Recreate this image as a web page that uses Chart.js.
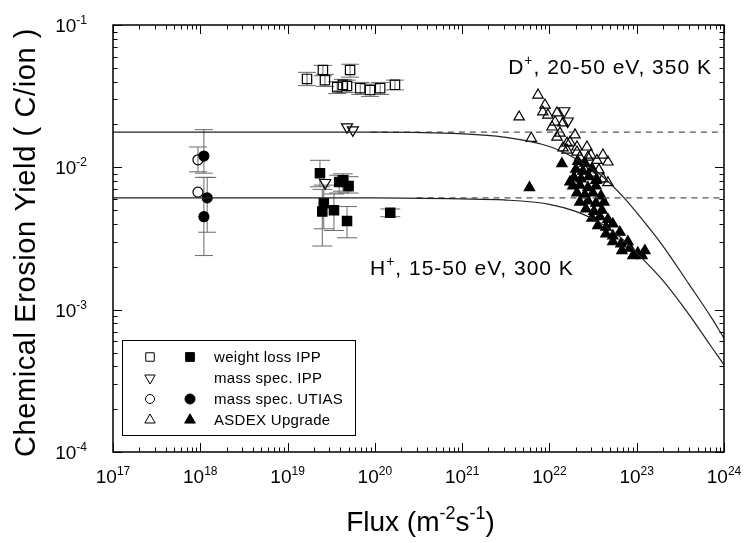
<!DOCTYPE html>
<html lang="en">
<head>
<meta charset="UTF-8">
<title>Chemical Erosion Yield vs Flux</title>
<script src="https://cdn.jsdelivr.net/npm/chart.js"></script>
<style>
  html, body { margin: 0; padding: 0; background: #fff; }
</style>
</head>
<body>
<canvas id="chart" width="747" height="543"></canvas>
<script>
const FONT = '"Liberation Sans", Arial, sans-serif';

// axis decades and minor tick multipliers
const xExps = [17, 18, 19, 20, 21, 22, 23, 24];
const yExps = [-4, -3, -2, -1];
const minorSteps = [2, 3, 4, 5, 6, 7, 8, 9];

// fitted curves
const fitFlux = [1e17, 1e18, 1e19, 1e20, 1e21, 3e21, 1e22, 2e22, 4e22, 7e22, 1e23, 2e23, 4e23, 7e23, 1e24];
const fitD = [0.0177, 0.0177, 0.0177, 0.0177, 0.0172, 0.0163, 0.0140, 0.0115, 0.0087, 0.0062, 0.0048, 0.0028, 0.00150, 0.00090, 0.00063];
const fitH = [0.0061, 0.0061, 0.0061, 0.0061, 0.0060, 0.0059, 0.0055, 0.0049, 0.0040, 0.0031, 0.0025, 0.0016, 0.00092, 0.00056, 0.00041];
const levelD = 0.0177, levelH = 0.0061;
const dashFromD = 9e19, dashFromH = 3e20;

// weight loss IPP  [flux, yield, low, high]
const weightLossD = [
  [1.67e19, 0.0418, 0.0375, 0.0465], [2.54e19, 0.0483, 0.0440, 0.0520], [2.68e19, 0.0410, 0.0370, 0.0450],
  [5.2e19, 0.0483, 0.0430, 0.0530], [3.7e19, 0.0366, 0.0330, 0.0400], [4.3e19, 0.0380, 0.0345, 0.0415],
  [4.8e19, 0.0373, 0.0335, 0.0410], [6.8e19, 0.0360, 0.0325, 0.0395], [8.8e19, 0.0349, 0.0315, 0.0385],
  [1.15e20, 0.0360, 0.0325, 0.0395], [1.7e20, 0.0380, 0.0350, 0.0410]
];
const weightLossH = [
  [2.35e19, 0.0091, 0.0073, 0.0112], [3.9e19, 0.0079, 0.0066, 0.0088], [4.3e19, 0.0081, 0.0068, 0.0090],
  [5.0e19, 0.0074, 0.0066, 0.0086], [2.6e19, 0.0056, 0.0037, 0.0075], [2.5e19, 0.0049, 0.0028, 0.0070],
  [3.4e19, 0.0050, 0.0036, 0.0065], [4.8e19, 0.0042, 0.0032, 0.0053], [1.5e20, 0.0048, 0.0045, 0.0051]
];

// mass spec. IPP (open only)
const massIPP = [[4.8e19, 0.0192], [5.6e19, 0.0183], [2.7e19, 0.0078], [1.48e22, 0.0249], [1.62e22, 0.0211]];

// mass spec. UTIAS  [flux, yield, low, high]
const utiasD = [[9.4e17, 0.0113, 0.0093, 0.0139], [9.4e17, 0.0067, 0.0067, 0.0067]];
const utiasH = [[1.1e18, 0.0120, 0.0091, 0.0184], [1.2e18, 0.0061, 0.0035, 0.0085], [1.1e18, 0.0045, 0.0024, 0.0085]];

// ASDEX Upgrade
const asdexD = [
  [4.5e21, 0.0226], [7.4e21, 0.0322], [8.9e21, 0.0274], [8.4e21, 0.0245], [9.6e21, 0.0233], [1.22e22, 0.0241],
  [1.16e22, 0.0208], [1.43e22, 0.0205], [1.07e22, 0.0192], [1.32e22, 0.0174], [1.96e22, 0.0169], [6.2e21, 0.0160],
  [1.22e22, 0.0163], [1.59e22, 0.0148], [1.59e22, 0.0132], [2.07e22, 0.0139], [2.07e22, 0.0128], [2.69e22, 0.0139],
  [2.23e22, 0.0118], [2.76e22, 0.0118], [2.99e22, 0.0122], [4.10e22, 0.0122], [3.50e22, 0.0112], [4.68e22, 0.0109],
  [2.55e22, 0.0096], [3.07e22, 0.0091], [3.69e22, 0.0096], [3.41e22, 0.0081], [4.10e22, 0.0083], [4.68e22, 0.0078],
  [1.43e22, 0.0137], [1.72e22, 0.0150]
];
const asdexH = [
  [5.9e21, 0.0072], [1.39e22, 0.0106], [1.72e22, 0.0079],
  [2.12e22, 0.0110], [2.55e22, 0.0107],
  [2.01e22, 0.0097], [2.42e22, 0.0094], [3.07e22, 0.0098],
  [1.91e22, 0.0085], [2.30e22, 0.0083], [2.83e22, 0.0086], [3.50e22, 0.0082],
  [1.86e22, 0.0074], [2.23e22, 0.0075], [2.76e22, 0.0072], [3.41e22, 0.0074],
  [2.07e22, 0.0066], [2.55e22, 0.0064], [3.15e22, 0.0066], [3.89e22, 0.0063],
  [2.23e22, 0.0057], [2.76e22, 0.0058], [3.41e22, 0.0056], [4.21e22, 0.0057],
  [2.62e22, 0.0051], [3.24e22, 0.0049], [3.99e22, 0.0050],
  [3.07e22, 0.0044], [3.79e22, 0.0045], [4.68e22, 0.0043],
  [3.59e22, 0.0039], [4.44e22, 0.0038], [5.33e22, 0.0040],
  [4.44e22, 0.0034], [5.33e22, 0.0033], [6.42e22, 0.0035],
  [5.33e22, 0.0030], [6.59e22, 0.0029], [7.93e22, 0.0030],
  [6.77e22, 0.0026], [8.36e22, 0.0027], [1.03e23, 0.0025], [1.24e23, 0.0026],
  [9.04e22, 0.0024], [1.15e23, 0.0024]
];

const legendLabels = ['weight loss IPP', 'mass spec. IPP', 'mass spec. UTIAS', 'ASDEX Upgrade'];

const pts = arr => arr.map(([x, y, lo, hi]) => ({ x, y, lo, hi }));
const curve = ys => fitFlux.map((x, i) => ({ x, y: ys[i] }));

function marker(style, filled, r, extra) {
  return Object.assign({
    showLine: false,
    pointStyle: style,
    pointRadius: r,
    pointBorderWidth: 1.2,
    pointBorderColor: '#000',
    pointBackgroundColor: filled ? '#000' : 'rgba(0,0,0,0)'
  }, extra || {});
}

function textRun(ctx, parts, x, y, size, align, spacing) {
  const supSize = Math.round(size * 0.65);
  ctx.letterSpacing = (spacing || 0) + 'px';
  let w = 0;
  parts.forEach(([t, sup]) => { ctx.font = (sup ? supSize : size) + 'px ' + FONT; w += ctx.measureText(t).width; });
  let cx = align === 'center' ? x - w / 2 : align === 'right' ? x - w : x;
  ctx.textAlign = 'left';
  ctx.textBaseline = 'alphabetic';
  parts.forEach(([t, sup]) => {
    ctx.font = (sup ? supSize : size) + 'px ' + FONT;
    ctx.fillText(t, cx, sup ? y - size * 0.42 : y);
    cx += ctx.measureText(t).width;
  });
  ctx.letterSpacing = '0px';
}

const errorBars = {
  id: 'errorBars',
  beforeDatasetsDraw(chart) {
    const { ctx, scales: { x, y } } = chart;
    ctx.save();
    ctx.strokeStyle = '#6a6a6a';
    ctx.lineWidth = 1;
    chart.data.datasets.forEach(ds => {
      if (!ds.errCap) return;
      ds.data.forEach(p => {
        if (p.lo === undefined || p.lo === p.hi) return;
        const px = x.getPixelForValue(p.x);
        const y1 = y.getPixelForValue(p.lo), y2 = y.getPixelForValue(p.hi);
        const c = ds.errCap / 2;
        ctx.beginPath();
        ctx.moveTo(px, y1); ctx.lineTo(px, y2);
        ctx.moveTo(px - c, y1); ctx.lineTo(px + c, y1);
        ctx.moveTo(px - c, y2); ctx.lineTo(px + c, y2);
        ctx.stroke();
      });
    });
    ctx.restore();
  }
};

const decor = {
  id: 'decor',
  afterDraw(chart) {
    const { ctx, chartArea: a, scales: { x, y } } = chart;
    ctx.save();
    ctx.strokeStyle = '#000';
    ctx.fillStyle = '#000';

    // frame
    ctx.lineWidth = 1.5;
    ctx.strokeRect(a.left, a.top, a.right - a.left, a.bottom - a.top);

    // inward ticks on all four sides
    ctx.lineWidth = 1;
    ctx.beginPath();
    const xt = (v, len) => {
      const px = Math.round(x.getPixelForValue(v)) + 0.5;
      ctx.moveTo(px, a.bottom); ctx.lineTo(px, a.bottom - len);
      ctx.moveTo(px, a.top); ctx.lineTo(px, a.top + len);
    };
    const yt = (v, len) => {
      const py = Math.round(y.getPixelForValue(v)) + 0.5;
      ctx.moveTo(a.left, py); ctx.lineTo(a.left + len, py);
      ctx.moveTo(a.right, py); ctx.lineTo(a.right - len, py);
    };
    xExps.forEach((e, i) => {
      xt(Math.pow(10, e), 9);
      if (i < xExps.length - 1) minorSteps.forEach(m => xt(m * Math.pow(10, e), 4.5));
    });
    yExps.forEach((e, i) => {
      yt(Math.pow(10, e), 9);
      if (i < yExps.length - 1) minorSteps.forEach(m => yt(m * Math.pow(10, e), 4.5));
    });
    ctx.stroke();

    // tick labels
    xExps.forEach(e => {
      textRun(ctx, [['10', false], [String(e), true]], x.getPixelForValue(Math.pow(10, e)), a.bottom + 31, 19, 'center');
    });
    yExps.forEach(e => {
      textRun(ctx, [['10', false], [String(e), true]], a.left - 26, y.getPixelForValue(Math.pow(10, e)) + 7, 19, 'right');
    });

    // axis titles
    textRun(ctx, [['Flux (m', false], ['-2', true], ['s', false], ['-1', true], [')', false]], (a.left + a.right) / 2 + 2, 531, 28, 'center');
    ctx.save();
    ctx.translate(35, (a.top + a.bottom) / 2 + 4);
    ctx.rotate(-Math.PI / 2);
    ctx.font = '29px ' + FONT;
    ctx.letterSpacing = '0.6px';
    ctx.textAlign = 'center';
    ctx.textBaseline = 'alphabetic';
    ctx.fillText('Chemical Erosion Yield ( C/ion )', 0, 0);
    ctx.restore();

    // annotations
    textRun(ctx, [['D', false], ['+', true], [', 20-50 eV, 350 K', false]], 712, 74, 21, 'right', 1);
    textRun(ctx, [['H', false], ['+', true], [', 15-50 eV, 300 K', false]], 370, 275, 21, 'left', 1);

    // legend box
    const lx = 122, ly = 340, lw = 233, lh = 95;
    ctx.lineWidth = 1;
    ctx.strokeRect(lx + 0.5, ly + 0.5, lw, lh);
    const rows = [357, 378, 399, 420];
    const openSyms = [['rect', 0], ['triangle', 180], ['circle', 0], ['triangle', 0]];
    const fillSyms = [['rect', 0], null, ['circle', 0], ['triangle', 0]];
    rows.forEach((ry, i) => {
      const o = openSyms[i];
      ctx.fillStyle = 'rgba(0,0,0,0)';
      Chart.helpers.drawPoint(ctx, { pointStyle: o[0], rotation: o[1], radius: o[0] === 'circle' ? 4.5 : 6, borderWidth: 1 }, 150, ry);
      const f = fillSyms[i];
      if (f) {
        ctx.fillStyle = '#000';
        Chart.helpers.drawPoint(ctx, { pointStyle: f[0], rotation: f[1], radius: f[0] === 'circle' ? 5 : 6.2, borderWidth: 1 }, 190, ry);
      }
      ctx.fillStyle = '#000';
      ctx.font = '15px ' + FONT;
      ctx.letterSpacing = '0.3px';
      ctx.textAlign = 'left';
      ctx.textBaseline = 'middle';
      ctx.fillText(legendLabels[i], 214, ry + 1);
    });
    ctx.restore();
  }
};

new Chart(document.getElementById('chart'), {
  type: 'scatter',
  data: {
    datasets: [
      { data: curve(fitD), showLine: true, pointRadius: 0, borderColor: '#222', borderWidth: 1.2, cubicInterpolationMode: 'monotone' },
      { data: curve(fitH), showLine: true, pointRadius: 0, borderColor: '#222', borderWidth: 1.2, cubicInterpolationMode: 'monotone' },
      { data: [{ x: dashFromD, y: levelD }, { x: 1e24, y: levelD }], showLine: true, pointRadius: 0, borderColor: '#555', borderWidth: 1.2, borderDash: [6, 5] },
      { data: [{ x: dashFromH, y: levelH }, { x: 1e24, y: levelH }], showLine: true, pointRadius: 0, borderColor: '#555', borderWidth: 1.2, borderDash: [6, 5] },
      Object.assign({ data: pts(weightLossD), errCap: 18 }, marker('rect', false, 6.6)),
      Object.assign({ data: pts(weightLossH), errCap: 20 }, marker('rect', true, 6.6)),
      Object.assign({ data: pts(massIPP) }, marker('triangle', false, 6.4, { rotation: 180 })),
      Object.assign({ data: pts(utiasD), errCap: 18 }, marker('circle', false, 5)),
      Object.assign({ data: pts(utiasH), errCap: 18 }, marker('circle', true, 5)),
      Object.assign({ data: pts(asdexD) }, marker('triangle', false, 6)),
      Object.assign({ data: pts(asdexH) }, marker('triangle', true, 6))
    ]
  },
  options: {
    responsive: false,
    animation: false,
    devicePixelRatio: 1,
    layout: { padding: { left: 113, top: 25, right: 23, bottom: 91 } },
    scales: {
      x: { type: 'logarithmic', min: 1e17, max: 1e24, display: false },
      y: { type: 'logarithmic', min: 1e-4, max: 1e-1, display: false }
    },
    plugins: { legend: { display: false }, tooltip: { enabled: false } }
  },
  plugins: [errorBars, decor]
});
</script>
</body>
</html>
